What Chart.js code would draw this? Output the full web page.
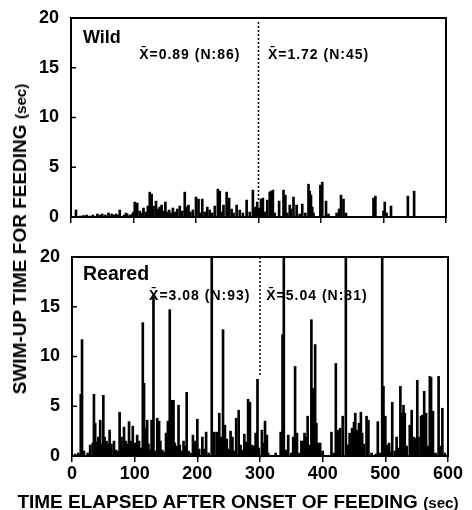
<!DOCTYPE html>
<html><head><meta charset="utf-8">
<script src="https://cdn.jsdelivr.net/npm/chart.js@4/dist/chart.umd.min.js"></script>
<style>
html,body{margin:0;padding:0;background:#fff;}
#wrap{position:relative;width:472px;height:510px;overflow:hidden;font-family:"Liberation Sans",Arial,sans-serif;color:#000;}
.cv{position:absolute;left:0;}
#ytitle{position:absolute;left:20px;top:239px;transform:translate(-50%,-50%) rotate(-90deg);white-space:nowrap;font-weight:bold;font-size:19px;}
#xtitle{position:absolute;left:238px;top:502px;transform:translate(-50%,-50%);white-space:nowrap;font-weight:bold;font-size:19px;}
.small{font-size:0.8em;}
</style></head>
<body><div id="wrap">
<canvas id="c1" class="cv" style="top:0" width="472" height="240"></canvas>
<canvas id="c2" class="cv" style="top:240px" width="472" height="270"></canvas>
<div id="ytitle">SWIM-UP TIME FOR FEEDING <span class="small">(sec)</span></div>
<div id="xtitle">TIME ELAPSED AFTER ONSET OF FEEDING <span class="small">(sec)</span></div>
</div>
<script>
// ---- data ----
const xTickValues = [0,100,200,300,400,500,600];
const yTickValues = [0,5,10,15,20];

const wildTimes = [8,15,20,25,30,35,42,46,50,55,60,65,68,72,75,78,85,88,90,95,98,100,102,106,110,113,116,120,123,126,129,132,136,139,142,145,148,151,154,157,160,163,166,170,174,178,182,185,188,191,195,200,204,207,210,214,218,222,226,230,235,238,241,244,249,253,257,260,265,270,275,281,286,291,294,298,
  301,304,307,310,314,318,320,323,326,333,340,343,346,350,352,356,361,366,370,375,380,382,384,386,388,399,402,408,412,425,429,432,436,440,484,487,500,502,505,512,539,549];
const wildValues = [0.7,0.1,0.15,0.2,0.1,0.2,0.3,0.2,0.3,0.2,0.4,0.3,0.2,0.3,0.2,0.7,0.2,0.4,0.3,0.2,0.3,0.5,1.5,1.4,0.6,0.4,0.9,0.5,1.1,2.5,2.3,1.1,1.6,0.8,1.0,1.2,0.6,1.5,0.5,0.7,0.4,0.9,0.5,0.8,1.1,0.6,2.5,1.0,1.2,0.5,0.7,2.0,1.8,0.4,1.8,0.5,1.0,0.7,0.4,1.1,2.8,2.6,0.5,1.2,2.5,1.9,0.8,0.4,1.2,0.7,0.4,1.7,0.5,2.7,1.0,1.5,
  0.9,1.8,1.9,0.5,1.7,2.5,2.6,2.7,0.4,1.6,2.7,2.2,0.4,1.2,0.8,2.0,1.2,0.3,1.3,0.4,3.3,2.6,2.2,1.0,0.4,3.2,3.5,1.6,0.3,0.4,0.8,2.2,1.8,0.4,1.9,2.1,0.6,1.5,0.4,1.1,2.1,2.6];

const rearedTimes = [5,10,14,16,19,25,29,33,35,37,40,42,45,48,50,52,55,58,60,63,67,70,73,76,79,81,83,86,88,91,94,97,100,102,104,107,110,113,115,117,120,122,125,127,130,133,136,139,141,144,147,150,153,156,159,162,164,167,170,172,175,178,180,183,186,190,193,196,200,203,208,211,214,218,223,227,231,235,238,241,244,247,250,253,256,259,262,266,269,272,275,278,281,284,287,290,293,296,298,
  303,306,308,311,313,325,333,336,338,341,345,350,353,356,359,363,366,369,371,373,376,379,382,385,388,390,393,396,400,414,418,421,425,428,432,437,440,443,447,450,452,455,458,461,463,466,470,473,478,485,488,492,495,497,500,503,506,508,511,515,518,521,524,526,529,531,534,539,542,545,548,551,553,557,559,562,565,568,571,573,576,580,585,588,591,595];
const rearedValues = [0.2,0.3,6.2,11.7,0.5,0.3,1.1,1.3,6.2,3.3,1.4,1.9,3.6,1.2,6.1,1.9,1.5,1.2,2.6,1.2,1.5,0.6,0.5,4.4,1.9,0.8,2.9,1.5,1.2,3.45,1.5,3.0,1.3,1.0,2.1,1.5,0.8,13.4,7.3,2.8,3.6,1.2,0.6,3.6,16.0,0.5,3.8,3.5,1.5,0.6,0.4,2.3,3.5,14.7,5.6,5.6,1.3,1.0,5.1,1.1,0.5,1.5,1.0,6.4,0.5,0.3,2.1,1.5,3.7,0.7,1.9,0.7,2.4,0.3,20,2.4,2.4,4.3,1.9,12.7,3.1,1.7,0.7,2.5,1.9,0.5,3.8,4.6,1.1,0.6,2.2,1.4,5.7,5.4,1.1,1.0,2.3,7.7,0.8,
  2.6,1.3,3.5,2.1,0.3,0.3,2.4,12.2,20,0.6,2.1,0.3,1.9,9.0,2.3,0.3,1.5,1.5,2.3,1.9,4.0,1.1,13.7,6.8,11.2,3.3,1.3,1.3,0.5,2.4,0.3,9.3,2.6,2.8,4.0,20,1.1,2.3,2.8,3.4,4.3,2.6,3.3,4.4,2.3,1.2,4.0,3.6,0.3,0.2,3.45,0.3,20,7.0,4.0,1.1,1.3,0.4,5.4,0.5,1.9,0.8,7.0,4.3,5.1,4.3,1.0,3.1,4.6,1.9,1.8,7.6,1.9,4.0,4.1,6.5,4.3,1.0,8.0,7.9,4.5,0.3,8.0,1.0,4.8,0.3];

const wildLabels = ["Wild", "X\u0304=0.89 (N:86)", "X\u0304=1.72 (N:45)"];
const rearedLabels = ["Reared", "X\u0304=3.08 (N:93)", "X\u0304=5.04 (N:81)"];
const splitTime = 300;

// ---- helpers ----
const FAM = '"Liberation Sans", Arial, sans-serif';
const panelPlugin = {
  id: 'panel',
  afterDatasetsDraw(chart, args, o) {
    const {ctx, chartArea: a, scales: {x, y}} = chart;
    ctx.save();
    ctx.strokeStyle = '#000';
    ctx.lineWidth = 1.5;
    ctx.setLineDash([2, 2]);
    const xp = x.getPixelForValue(o.divider);
    ctx.beginPath();
    ctx.moveTo(xp, y.getPixelForValue(o.divTop));
    ctx.lineTo(xp, y.getPixelForValue(o.divBottom));
    ctx.stroke();
    ctx.setLineDash([]);
    ctx.lineWidth = 2;
    ctx.strokeRect(a.left, a.top, a.right - a.left, a.bottom - a.top);
    ctx.lineWidth = 1.5;
    y.ticks.forEach(t => {
      const yp = y.getPixelForValue(t.value);
      ctx.beginPath(); ctx.moveTo(a.left, yp); ctx.lineTo(a.left + 5, yp); ctx.stroke();
    });
    ctx.fillStyle = '#000';
    ctx.textAlign = 'left';
    ctx.textBaseline = 'middle';
    o.labels.forEach(l => {
      ctx.font = l.font;
      ctx.letterSpacing = l.spacing || '0px';
      ctx.fillText(l.text, x.getPixelForValue(l.x), y.getPixelForValue(l.y));
    });
    ctx.restore();
  }
};

function makeChart(id, times, values, opt) {
  return new Chart(document.getElementById(id), {
    type: 'bar',
    data: {
      datasets: [{
        data: times.map((t, i) => ({x: t, y: values[i]})),
        backgroundColor: '#000',
        borderWidth: 0,
        barThickness: 2
      }]
    },
    options: {
      responsive: false,
      animation: false,
      layout: {padding: opt.padding},
      plugins: {
        legend: {display: false},
        tooltip: {enabled: false},
        panel: {divider: splitTime, divTop: opt.divTop, divBottom: opt.divBottom, labels: opt.labels}
      },
      scales: {
        x: {
          type: 'linear', min: 0, max: 600, offset: false,
          afterBuildTicks: s => { s.ticks = xTickValues.map(v => ({value: v})); },
          afterFit: s => { s.height = opt.xHeight; },
          grid: {display: true, drawOnChartArea: false, drawTicks: true, tickLength: 6, color: '#000', lineWidth: 1.5, offset: false},
          border: {display: false},
          ticks: {display: opt.showX, font: {family: FAM, size: 18, weight: 'bold'}, color: '#000', padding: 1, maxRotation: 0}
        },
        y: {
          min: 0, max: 20,
          afterBuildTicks: s => { s.ticks = yTickValues.map(v => ({value: v})); },
          afterFit: s => { s.width = opt.yWidth; },
          grid: {display: false},
          border: {display: false},
          ticks: {font: {family: FAM, size: 18, weight: 'bold'}, color: '#000', padding: 4}
        }
      }
    },
    plugins: [panelPlugin]
  });
}

makeChart('c1', wildTimes, wildValues, {
  padding: {top: 18, right: 26, left: 0, bottom: 0},
  yWidth: 71, xHeight: 23, showX: false,
  divTop: 19.6, divBottom: 1.7,
  labels: [
    {text: wildLabels[0], x: 19, y: 18.0, font: 'bold 18px ' + FAM},
    {text: wildLabels[1], x: 109, y: 16.3, font: 'bold 14px ' + FAM, spacing: '1px'},
    {text: wildLabels[2], x: 315, y: 16.3, font: 'bold 14px ' + FAM, spacing: '1px'}
  ]
});
makeChart('c2', rearedTimes, rearedValues, {
  padding: {top: 17, right: 24, left: 0, bottom: 0},
  yWidth: 72, xHeight: 54, showX: true,
  divTop: 20, divBottom: 8,
  labels: [
    {text: rearedLabels[0], x: 17.5, y: 18.2, font: 'bold 19.5px ' + FAM},
    {text: rearedLabels[1], x: 123, y: 16.1, font: 'bold 14px ' + FAM, spacing: '1px'},
    {text: rearedLabels[2], x: 310, y: 16.1, font: 'bold 14px ' + FAM, spacing: '1px'}
  ]
});
</script>
</body></html>
